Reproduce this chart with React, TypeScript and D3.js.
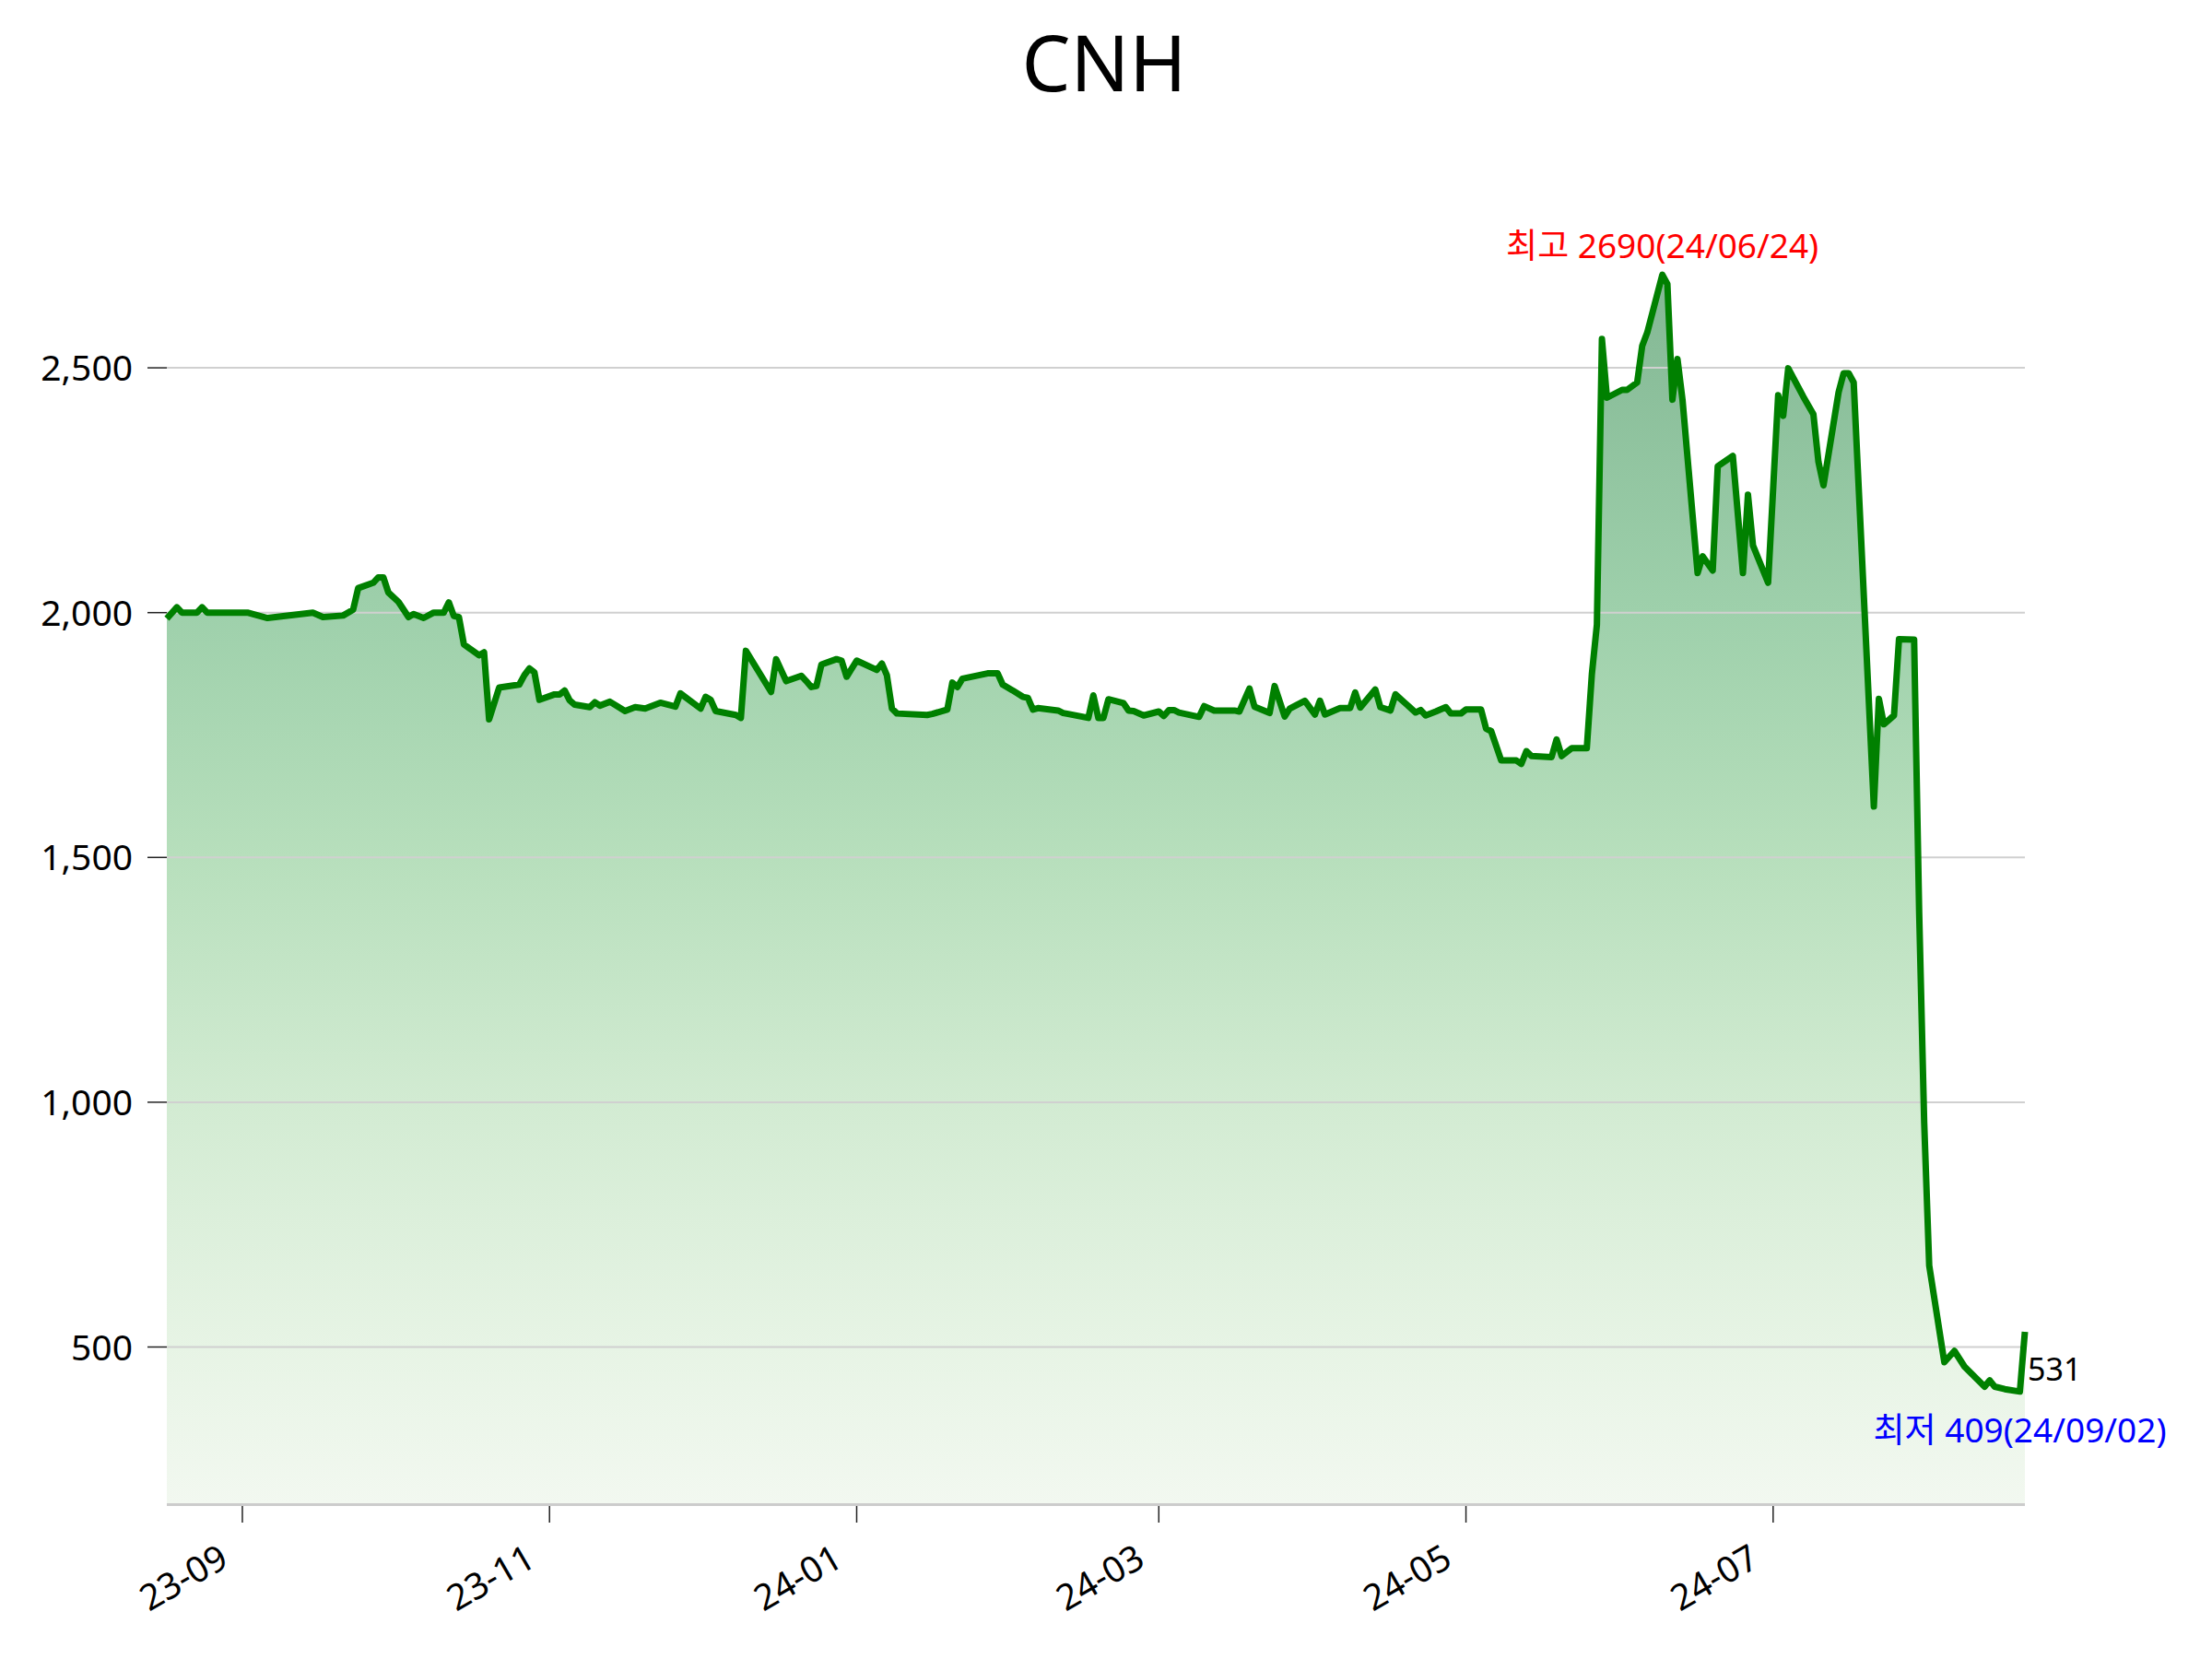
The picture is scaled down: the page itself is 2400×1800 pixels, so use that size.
import { useEffect, useRef } from 'react';
import * as d3 from 'd3';

const dates = [
  '2023-08-17', '2023-08-19', '2023-08-20', '2023-08-23', '2023-08-24', '2023-08-25', '2023-09-02', '2023-09-06',
  '2023-09-15', '2023-09-17', '2023-09-21', '2023-09-23', '2023-09-24', '2023-09-27', '2023-09-28', '2023-09-29',
  '2023-09-30', '2023-10-02', '2023-10-04', '2023-10-05', '2023-10-07', '2023-10-09', '2023-10-11', '2023-10-12',
  '2023-10-13', '2023-10-14', '2023-10-15', '2023-10-18', '2023-10-19', '2023-10-20', '2023-10-22', '2023-10-26',
  '2023-10-27', '2023-10-28', '2023-10-29', '2023-10-30', '2023-11-02', '2023-11-03', '2023-11-04', '2023-11-05',
  '2023-11-06', '2023-11-09', '2023-11-10', '2023-11-11', '2023-11-13', '2023-11-16', '2023-11-18', '2023-11-20',
  '2023-11-23', '2023-11-26', '2023-11-27', '2023-12-01', '2023-12-02', '2023-12-03', '2023-12-04', '2023-12-08',
  '2023-12-09', '2023-12-10', '2023-12-15', '2023-12-16', '2023-12-18', '2023-12-21', '2023-12-22', '2023-12-23',
  '2023-12-24', '2023-12-25', '2023-12-28', '2023-12-29', '2023-12-30', '2024-01-01', '2024-01-05', '2024-01-06',
  '2024-01-07', '2024-01-08', '2024-01-09', '2024-01-15', '2024-01-16', '2024-01-19', '2024-01-20', '2024-01-21',
  '2024-01-22', '2024-01-27', '2024-01-29', '2024-01-30', '2024-02-01', '2024-02-03', '2024-02-04', '2024-02-05',
  '2024-02-06', '2024-02-10', '2024-02-11', '2024-02-12', '2024-02-16', '2024-02-17', '2024-02-18', '2024-02-19',
  '2024-02-20', '2024-02-23', '2024-02-24', '2024-02-25', '2024-02-27', '2024-03-01', '2024-03-02', '2024-03-03',
  '2024-03-04', '2024-03-05', '2024-03-09', '2024-03-10', '2024-03-12', '2024-03-16', '2024-03-17', '2024-03-19',
  '2024-03-20', '2024-03-23', '2024-03-24', '2024-03-26', '2024-03-27', '2024-03-30', '2024-04-01', '2024-04-02',
  '2024-04-03', '2024-04-06', '2024-04-08', '2024-04-09', '2024-04-10', '2024-04-13', '2024-04-14', '2024-04-16',
  '2024-04-17', '2024-04-21', '2024-04-22', '2024-04-23', '2024-04-25', '2024-04-27', '2024-04-28', '2024-04-30',
  '2024-05-01', '2024-05-04', '2024-05-05', '2024-05-06', '2024-05-08', '2024-05-11', '2024-05-12', '2024-05-13',
  '2024-05-14', '2024-05-18', '2024-05-19', '2024-05-20', '2024-05-22', '2024-05-25', '2024-05-26', '2024-05-27',
  '2024-05-28', '2024-05-29', '2024-06-01', '2024-06-02', '2024-06-04', '2024-06-05', '2024-06-06', '2024-06-09',
  '2024-06-10', '2024-06-11', '2024-06-12', '2024-06-13', '2024-06-16', '2024-06-17', '2024-06-19', '2024-06-20',
  '2024-06-23', '2024-06-25', '2024-06-26', '2024-06-27', '2024-06-30', '2024-07-02', '2024-07-03', '2024-07-04',
  '2024-07-07', '2024-07-09', '2024-07-10', '2024-07-11', '2024-07-14', '2024-07-15', '2024-07-16', '2024-07-17',
  '2024-07-21', '2024-07-22', '2024-07-23', '2024-07-25', '2024-07-26', '2024-07-29', '2024-07-30', '2024-07-31',
  '2024-08-01', '2024-08-04', '2024-08-06', '2024-08-08', '2024-08-12', '2024-08-13', '2024-08-14', '2024-08-16',
  '2024-08-19', '2024-08-20',
];

const prices = [
  1988, 2011, 2000, 2000, 2011, 2000, 2000, 1989,
  2000, 1991, 1994, 2006, 2050, 2061, 2072, 2072,
  2041, 2022, 1991, 1997, 1989, 2000, 2000, 2021,
  1993, 1991, 1935, 1913, 1919, 1782, 1847, 1853,
  1872, 1886, 1878, 1822, 1833, 1833, 1841, 1821,
  1812, 1807, 1817, 1810, 1818, 1799, 1807, 1804,
  1816, 1808, 1835, 1804, 1828, 1822, 1799, 1791,
  1785, 1922, 1838, 1905, 1860, 1871, 1860, 1848,
  1850, 1894, 1905, 1902, 1869, 1902, 1883, 1896,
  1872, 1804, 1794, 1791, 1793, 1802, 1857, 1848,
  1865, 1876, 1876, 1853, 1841, 1828, 1826, 1802,
  1805, 1800, 1795, 1793, 1785, 1831, 1785, 1785,
  1823, 1815, 1800, 1799, 1790, 1798, 1789, 1801,
  1801, 1796, 1787, 1809, 1800, 1800, 1798, 1845,
  1808, 1795, 1850, 1788, 1804, 1820, 1792, 1820,
  1792, 1805, 1805, 1837, 1806, 1843, 1807, 1800,
  1833, 1796, 1801, 1790, 1798, 1807, 1794, 1794,
  1802, 1802, 1763, 1758, 1698, 1698, 1691, 1717,
  1707, 1705, 1741, 1707, 1723, 1723, 1874, 1975,
  2559, 2439, 2455, 2455, 2470, 2545, 2572, 2690,
  2671, 2435, 2518, 2435, 2081, 2115, 2086, 2299,
  2320, 2081, 2241, 2137, 2061, 2444, 2402, 2499,
  2441, 2405, 2308, 2260, 2450, 2489, 2489, 2470,
  1604, 1824, 1772, 1790, 1946, 1945, 1388, 958,
  666, 469, 492, 460, 419, 432, 419, 414,
  409, 531,
];

const yTicks = [500, 1000, 1500, 2000, 2500];
const title = 'CNH';
const maxLabelDate = '24/06/24';
const minLabelDate = '24/09/02';

const FONT = '"Noto Sans", "Noto Sans CJK KR", sans-serif';

export default function App() {
  const svgRef = useRef<SVGSVGElement>(null);

  useEffect(() => {
    if (!svgRef.current) return;
    const root = d3.select(svgRef.current);
    root.selectAll('*').remove();

    const width = 2400;
    const height = 1800;
    const margin = { top: 177, right: 203, bottom: 169, left: 181 };
    const innerWidth = width - margin.left - margin.right;
    const innerHeight = height - margin.top - margin.bottom;

    const parse = d3.timeParse('%Y-%m-%d');
    const data = dates.map((d, i) => ({ date: parse(d) as Date, value: prices[i] }));

    const [lo, hi] = d3.extent(prices) as [number, number];
    const pad = (hi - lo) * 0.1;

    const xScale = d3.scaleTime()
      .domain(d3.extent(data, d => d.date) as [Date, Date])
      .range([0, innerWidth]);
    const yScale = d3.scaleLinear().domain([lo - pad, hi + pad]).range([innerHeight, 0]);

    root.attr('width', width).attr('height', height);

    // vertical gradient under the line
    const defs = root.append('defs');
    const grad = defs.append('linearGradient')
      .attr('id', 'areaFill')
      .attr('gradientUnits', 'userSpaceOnUse')
      .attr('x1', 0).attr('x2', 0)
      .attr('y1', 0).attr('y2', innerHeight);
    [
      [0, '#80b490'],
      [0.083, '#84b894'],
      [0.153, '#8abe9a'],
      [0.335, '#9ed0ab'],
      [0.518, '#b7dfbc'],
      [0.7, '#d2ebd2'],
      [0.884, '#e7f4e5'],
      [1, '#f2f8f0'],
    ].forEach(([o, c]) => grad.append('stop').attr('offset', o as number).attr('stop-color', c as string));

    root.append('text')
      .attr('x', 1198)
      .attr('y', 99)
      .attr('text-anchor', 'middle')
      .attr('font-family', FONT)
      .attr('font-size', 84)
      .attr('fill', '#000')
      .text(title);

    const svg = root.append('g').attr('transform', `translate(${margin.left},${margin.top})`);

    // Area under the line
    const area = d3.area<{ date: Date; value: number }>()
      .x(d => xScale(d.date))
      .y0(innerHeight)
      .y1(d => yScale(d.value));
    svg.append('path').datum(data).attr('d', area).attr('fill', 'url(#areaFill)');

    // Grid lines
    svg.selectAll('.grid')
      .data(yTicks)
      .enter()
      .append('line')
      .attr('x1', 0)
      .attr('x2', innerWidth)
      .attr('y1', d => yScale(d))
      .attr('y2', d => yScale(d))
      .attr('stroke', '#d0d0d0')
      .attr('stroke-width', 2);

    // Y ticks + labels
    svg.selectAll('.ytick')
      .data(yTicks)
      .enter()
      .append('line')
      .attr('x1', -21)
      .attr('x2', 0)
      .attr('y1', d => yScale(d))
      .attr('y2', d => yScale(d))
      .attr('stroke', '#222')
      .attr('stroke-width', 1.5);

    svg.selectAll('.ylabel')
      .data(yTicks)
      .enter()
      .append('text')
      .attr('x', -37)
      .attr('y', d => yScale(d))
      .attr('dy', '0.36em')
      .attr('text-anchor', 'end')
      .attr('font-family', FONT)
      .attr('font-size', 39)
      .attr('fill', '#000')
      .text(d => d3.format(',')(d));

    // Bottom spine
    svg.append('line')
      .attr('x1', 0)
      .attr('x2', innerWidth)
      .attr('y1', innerHeight + 1.5)
      .attr('y2', innerHeight + 1.5)
      .attr('stroke', '#cccccc')
      .attr('stroke-width', 3);

    // X ticks + labels
    const xTicks = xScale.ticks(d3.timeMonth.every(2) as d3.TimeInterval);
    svg.selectAll('.xtick')
      .data(xTicks)
      .enter()
      .append('line')
      .attr('x1', d => xScale(d))
      .attr('x2', d => xScale(d))
      .attr('y1', innerHeight + 3)
      .attr('y2', innerHeight + 21)
      .attr('stroke', '#222')
      .attr('stroke-width', 1.5);

    svg.selectAll('.xlabel')
      .data(xTicks)
      .enter()
      .append('text')
      .attr('transform', d => `translate(${xScale(d) - 13},${innerHeight + 67}) rotate(-30)`)
      .attr('text-anchor', 'end')
      .attr('font-family', FONT)
      .attr('font-size', 39)
      .attr('fill', '#000')
      .text(d => d3.timeFormat('%y-%m')(d));

    // Price line
    const line = d3.line<{ date: Date; value: number }>()
      .x(d => xScale(d.date))
      .y(d => yScale(d.value));
    svg.append('path')
      .datum(data)
      .attr('d', line)
      .attr('fill', 'none')
      .attr('stroke', '#008000')
      .attr('stroke-width', 7)
      .attr('stroke-linejoin', 'round');

    // Annotations
    const maxPt = data[d3.maxIndex(data, d => d.value)];
    const minPt = data[d3.minIndex(data, d => d.value)];
    const lastPt = data[data.length - 1];

    svg.append('text')
      .attr('x', xScale(maxPt.date))
      .attr('y', yScale(maxPt.value) - 18)
      .attr('text-anchor', 'middle')
      .attr('font-family', FONT)
      .attr('font-size', 37)
      .attr('fill', 'red')
      .text(`최고 ${maxPt.value}(${maxLabelDate})`);

    svg.append('text')
      .attr('x', xScale(minPt.date))
      .attr('y', yScale(minPt.value) + 55)
      .attr('text-anchor', 'middle')
      .attr('font-family', FONT)
      .attr('font-size', 37)
      .attr('fill', 'blue')
      .text(`최저 ${minPt.value}(${minLabelDate})`);

    svg.append('text')
      .attr('x', xScale(lastPt.date) + 3)
      .attr('y', yScale(lastPt.value) + 53)
      .attr('text-anchor', 'start')
      .attr('font-family', FONT)
      .attr('font-size', 34)
      .attr('fill', '#000')
      .text(`${lastPt.value}`);
  }, []);

  return (
    <div style={{ position: 'absolute', left: 0, top: 0, width: 2400, height: 1800, background: '#fff' }}>
      <svg ref={svgRef} style={{ display: 'block' }} />
    </div>
  );
}
